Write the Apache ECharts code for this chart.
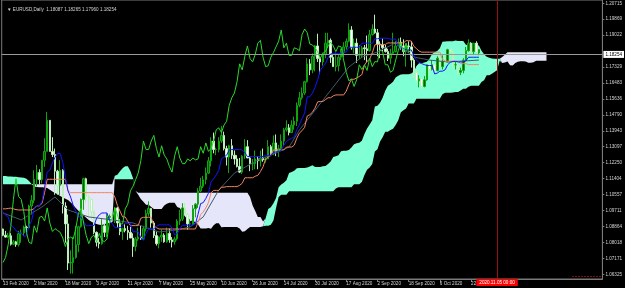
<!DOCTYPE html>
<html><head><meta charset="utf-8">
<script src="https://cdn.jsdelivr.net/npm/echarts@6.0.0/dist/echarts.min.js"></script>
<style>html,body{margin:0;padding:0;background:#000;}#c{width:625px;height:288px;}</style>
</head><body><div id="c"></div>
<script>
// ---- data (EURUSD Daily, bar index 0 = 13 Feb 2020) ----
const dateLabels = ['13 Feb 2020','2 Mar 2020','18 Mar 2020','3 Apr 2020','21 Apr 2020','7 May 2020','25 May 2020','10 Jun 2020','26 Jun 2020','14 Jul 2020','30 Jul 2020','17 Aug 2020','2 Sep 2020','18 Sep 2020','6 Oct 2020','22 Oct 2020'];
const yTicks = [1.20715,1.19869,1.19022,1.17329,1.16483,1.15636,1.14790,1.13943,1.13097,1.12250,1.11404,1.10557,1.09711,1.08864,1.08018,1.07171,1.06325];
const titleText = '\u25BC EURUSD,Daily  1.18087 1.18265 1.17960 1.18254';
const bidPrice = 1.18254;
const vLineBar = '190';
const vLineLabel = '2020.11.05 00:00';
const shiftMarker = { from: '219', to: '230', price: 1.06235 };

const open = [
1.0873,1.0840,1.0830,1.0837,1.0792,1.0805,1.0790,1.0848,1.0852,1.0883,
1.0880,1.0995,1.1025,1.1137,1.1173,1.1135,1.1238,1.1285,1.1450,1.1285,
1.1268,1.1180,1.1105,1.1185,1.0995,1.0900,1.0692,1.0695,1.0722,1.0790,
1.0885,1.1030,1.1140,1.1045,1.1030,1.0965,1.0855,1.0803,1.0795,1.0890,
1.0855,1.0935,1.0940,1.0915,1.0985,1.0905,1.0860,1.0875,1.0865,1.0855,
1.0825,1.0780,1.0820,1.0830,1.0820,1.0875,1.0955,1.0982,1.0905,1.0838,
1.0795,1.0830,1.0840,1.0805,1.0850,1.0815,1.0805,1.0820,1.0915,1.0925,
1.0985,1.0950,1.0900,1.0900,1.0980,1.1005,1.1075,1.1100,1.1135,1.1170,
1.1235,1.1340,1.1295,1.1295,1.1340,1.1370,1.1300,1.1255,1.1315,1.1265,
1.1245,1.1205,1.1175,1.1260,1.1310,1.1250,1.1220,1.1220,1.1245,1.1235,
1.1250,1.1240,1.1245,1.1310,1.1275,1.1330,1.1285,1.1300,1.1340,1.1400,
1.1410,1.1385,1.1425,1.1445,1.1530,1.1570,1.1595,1.1655,1.1750,1.1718,
1.1790,1.1845,1.1778,1.1760,1.1800,1.1860,1.1875,1.1785,1.1735,1.1740,
1.1785,1.1810,1.1840,1.1870,1.1930,1.1835,1.1860,1.1795,1.1795,1.1835,
1.1830,1.1820,1.1905,1.1935,1.1915,1.1855,1.1850,1.1835,1.1815,1.1780,
1.1805,1.1815,1.1845,1.1865,1.1845,1.1815,1.1845,1.1840,1.1770,1.1705,
1.1660,1.1670,1.1630,1.1665,1.1745,1.1720,1.1745,1.1715,1.1780,1.1735,
1.1762,1.1760,1.1825,1.1815,1.1745,1.1745,1.1705,1.1715,1.1770,1.1820,
1.1860,1.1815,1.1860,1.18087];
const high = [
1.0875,1.0863,1.0852,1.0851,1.0815,1.0810,1.0863,1.0870,1.0891,1.0890,
1.1002,1.1053,1.1185,1.1213,1.1190,1.1240,1.1355,1.1495,1.1450,1.1360,
1.1300,1.1187,1.1238,1.1190,1.1015,1.0950,1.0760,1.0830,1.0890,1.0890,
1.1035,1.1145,1.1145,1.1055,1.1035,1.0970,1.0860,1.0825,1.0925,1.0905,
1.0955,1.0950,1.0955,1.0990,1.0990,1.0925,1.0880,1.0900,1.0890,1.0885,
1.0850,1.0830,1.0880,1.0890,1.0890,1.0975,1.1020,1.0985,1.0915,1.0860,
1.0835,1.0870,1.0850,1.0880,1.0875,1.0830,1.0832,1.0925,1.0975,1.1010,
1.1010,1.0960,1.0925,1.1000,1.1010,1.1090,1.1145,1.1155,1.1200,1.1255,
1.1360,1.1385,1.1305,1.1360,1.1420,1.1390,1.1315,1.1320,1.1350,1.1290,
1.1265,1.1250,1.1265,1.1350,1.1345,1.1260,1.1245,1.1290,1.1260,1.1290,
1.1300,1.1255,1.1345,1.1320,1.1370,1.1375,1.1320,1.1375,1.1410,1.1450,
1.1430,1.1450,1.1470,1.1545,1.1600,1.1625,1.1660,1.1780,1.1775,1.1805,
1.1850,1.1910,1.1790,1.1810,1.1915,1.1915,1.1885,1.1805,1.1810,1.1800,
1.1830,1.1865,1.1885,1.1965,1.1950,1.1885,1.1885,1.1850,1.1845,1.1850,
1.1900,1.1930,1.1960,1.2011,1.1935,1.1870,1.1885,1.1850,1.1830,1.1830,
1.1915,1.1870,1.1885,1.1890,1.1880,1.1850,1.1870,1.1870,1.1780,1.1720,
1.1690,1.1675,1.1685,1.1745,1.1755,1.1770,1.1750,1.1790,1.1810,1.1795,
1.1790,1.1830,1.1830,1.1820,1.1765,1.1755,1.1730,1.1780,1.1840,1.1880,
1.1865,1.1860,1.1870,1.18265];
const low = [
1.0835,1.0827,1.0826,1.0785,1.0787,1.0778,1.0780,1.0800,1.0835,1.0855,
1.0875,1.0950,1.1010,1.1100,1.1110,1.1115,1.1203,1.1285,1.1285,1.1255,
1.1055,1.1055,1.1052,1.0955,1.0800,1.0655,1.0636,1.0636,1.0715,1.0750,
1.0880,1.0975,1.1010,1.0925,1.0925,1.0845,1.0780,1.0770,1.0790,1.0830,
1.0830,1.0920,1.0905,1.0905,1.0880,1.0840,1.0815,1.0855,1.0815,1.0825,
1.0725,1.0755,1.0810,1.0815,1.0815,1.0860,1.0940,1.0880,1.0825,1.0785,
1.0770,1.0805,1.0800,1.0800,1.0800,1.0775,1.0790,1.0812,1.0895,1.0915,
1.0945,1.0870,1.0885,1.0895,1.0935,1.0985,1.1070,1.1090,1.1110,1.1165,
1.1205,1.1275,1.1265,1.1280,1.1330,1.1290,1.1210,1.1170,1.1245,1.1215,
1.1200,1.1170,1.1165,1.1245,1.1250,1.1180,1.1185,1.1190,1.1190,1.1205,
1.1230,1.1225,1.1245,1.1260,1.1265,1.1260,1.1255,1.1295,1.1315,1.1390,
1.1370,1.1385,1.1400,1.1420,1.1520,1.1560,1.1585,1.1650,1.1690,1.1700,
1.1710,1.1760,1.1695,1.1740,1.1780,1.1835,1.1755,1.1735,1.1710,1.1710,
1.1770,1.1785,1.1825,1.1865,1.1825,1.1805,1.1755,1.1775,1.1780,1.1770,
1.1760,1.1815,1.1900,1.1910,1.1790,1.1780,1.1815,1.1810,1.1765,1.1750,
1.1800,1.1810,1.1840,1.1825,1.1790,1.1735,1.1825,1.1730,1.1675,1.1650,
1.1625,1.1612,1.1625,1.1660,1.1685,1.1715,1.1695,1.1710,1.1730,1.1720,
1.1750,1.1760,1.1785,1.1735,1.1720,1.1690,1.1690,1.1700,1.1765,1.1815,
1.1790,1.1800,1.1800,1.1796];
const close = [
1.0840,1.0830,1.0837,1.0792,1.0805,1.0790,1.0848,1.0852,1.0883,1.0880,
1.0995,1.1025,1.1137,1.1173,1.1135,1.1238,1.1285,1.1450,1.1285,1.1268,
1.1180,1.1105,1.1185,1.0995,1.0900,1.0692,1.0695,1.0722,1.0790,1.0885,
1.1030,1.1140,1.1045,1.1030,1.0965,1.0855,1.0803,1.0795,1.0890,1.0855,
1.0935,1.0940,1.0915,1.0985,1.0905,1.0860,1.0875,1.0865,1.0855,1.0825,
1.0780,1.0820,1.0830,1.0820,1.0875,1.0955,1.0982,1.0905,1.0838,1.0795,
1.0830,1.0840,1.0805,1.0850,1.0815,1.0805,1.0820,1.0915,1.0925,1.0985,
1.0950,1.0900,1.0900,1.0980,1.1005,1.1075,1.1100,1.1135,1.1170,1.1235,
1.1340,1.1295,1.1295,1.1340,1.1370,1.1300,1.1255,1.1315,1.1265,1.1245,
1.1205,1.1175,1.1260,1.1310,1.1250,1.1220,1.1220,1.1245,1.1235,1.1250,
1.1240,1.1245,1.1310,1.1275,1.1330,1.1285,1.1300,1.1340,1.1400,1.1410,
1.1385,1.1425,1.1445,1.1530,1.1570,1.1595,1.1655,1.1750,1.1718,1.1790,
1.1845,1.1778,1.1760,1.1800,1.1860,1.1875,1.1785,1.1735,1.1740,1.1785,
1.1810,1.1840,1.1870,1.1930,1.1835,1.1860,1.1795,1.1795,1.1835,1.1830,
1.1820,1.1905,1.1935,1.1915,1.1855,1.1850,1.1835,1.1815,1.1780,1.1805,
1.1815,1.1845,1.1865,1.1845,1.1815,1.1845,1.1840,1.1770,1.1705,1.1660,
1.1670,1.1630,1.1665,1.1745,1.1720,1.1745,1.1715,1.1780,1.1735,1.1762,
1.1760,1.1825,1.1815,1.1745,1.1745,1.1705,1.1715,1.1770,1.1820,1.1860,
1.1815,1.1860,1.1810,1.18254];

// Tenkan-sen (blue), per bar
const tenkan = [
1.0965,1.0946,1.0938,1.0893,1.0883,1.0864,1.0854,1.0852,1.0835,1.0835,
1.0890,1.0916,1.0982,1.0996,1.0997,1.1020,1.1095,1.1175,1.1185,1.1223,
1.1253,1.1275,1.1274,1.1225,1.1148,1.1075,1.1043,1.0998,1.0968,1.0937,
1.0937,1.0913,1.0891,1.0891,1.0891,1.0891,1.0930,1.0948,1.0958,1.0958,
1.0958,1.0913,1.0903,1.0880,1.0880,1.0880,1.0890,1.0903,1.0903,1.0903,
1.0858,1.0858,1.0858,1.0825,1.0813,1.0850,1.0873,1.0873,1.0873,1.0888,
1.0895,1.0895,1.0895,1.0895,1.0895,1.0878,1.0843,1.0848,1.0873,1.0893,
1.0893,1.0893,1.0893,1.0893,1.0900,1.0951,1.1008,1.1013,1.1035,1.1063,
1.1123,1.1140,1.1160,1.1185,1.1245,1.1255,1.1265,1.1293,1.1295,1.1295,
1.1295,1.1295,1.1293,1.1278,1.1258,1.1258,1.1258,1.1258,1.1258,1.1258,
1.1258,1.1265,1.1263,1.1263,1.1278,1.1283,1.1283,1.1290,1.1318,1.1338,
1.1348,1.1353,1.1363,1.1400,1.1428,1.1460,1.1488,1.1575,1.1575,1.1595,
1.1625,1.1665,1.1715,1.1735,1.1750,1.1783,1.1803,1.1805,1.1805,1.1805,
1.1805,1.1813,1.1813,1.1838,1.1838,1.1838,1.1838,1.1838,1.1860,1.1860,
1.1860,1.1860,1.1858,1.1883,1.1883,1.1886,1.1886,1.1886,1.1886,1.1881,
1.1881,1.1881,1.1843,1.1833,1.1833,1.1825,1.1825,1.1823,1.1795,1.1770,
1.1758,1.1751,1.1746,1.1741,1.1741,1.1741,1.1696,1.1701,1.1711,1.1711,
1.1718,1.1745,1.1758,1.1763,1.1763,1.1760,1.1760,1.1760,1.1765,1.1785,
1.1785,1.1785,1.1785,1.1785];
// Kijun-sen (salmon), per bar
const kijun = [
1.0980,1.0980,1.0982,1.0984,1.0980,1.0976,1.0974,1.0974,1.0974,1.0974,
1.0974,1.0974,1.0982,1.0996,1.0996,1.1009,1.1067,1.1137,1.1137,1.1137,
1.1137,1.1137,1.1137,1.1137,1.1137,1.1075,1.1066,1.1066,1.1066,1.1066,
1.1066,1.1066,1.1066,1.1066,1.1066,1.1066,1.1066,1.1066,1.1066,1.1066,
1.1066,1.1066,1.1066,1.1043,1.0998,1.0968,1.0937,1.0937,1.0913,1.0891,
1.0891,1.0891,1.0891,1.0930,1.0935,1.0935,1.0935,1.0935,1.0890,1.0880,
1.0873,1.0873,1.0873,1.0873,1.0873,1.0873,1.0873,1.0873,1.0873,1.0873,
1.0873,1.0873,1.0873,1.0873,1.0873,1.0908,1.0950,1.0963,1.0985,1.1013,
1.1065,1.1078,1.1078,1.1078,1.1095,1.1095,1.1098,1.1098,1.1098,1.1098,
1.1098,1.1105,1.1116,1.1145,1.1145,1.1145,1.1145,1.1153,1.1158,1.1178,
1.1203,1.1245,1.1255,1.1265,1.1293,1.1293,1.1293,1.1293,1.1293,1.1308,
1.1308,1.1308,1.1318,1.1355,1.1383,1.1395,1.1413,1.1473,1.1480,1.1493,
1.1515,1.1548,1.1550,1.1550,1.1560,1.1570,1.1570,1.1580,1.1585,1.1585,
1.1585,1.1585,1.1605,1.1640,1.1668,1.1668,1.1675,1.1683,1.1693,1.1743,
1.1763,1.1775,1.1808,1.1851,1.1853,1.1853,1.1853,1.1853,1.1861,1.1861,
1.1861,1.1861,1.1861,1.1861,1.1861,1.1873,1.1873,1.1871,1.1843,1.1831,
1.1818,1.1812,1.1812,1.1812,1.1812,1.1812,1.1812,1.1812,1.1812,1.1774,
1.1764,1.1764,1.1764,1.1764,1.1764,1.1764,1.1751,1.1751,1.1751,1.1746,
1.1746,1.1746,1.1746,1.1746];
// Senkou span A (plotted, already 26 bars ahead), bars 0..209
const spanA = [
1.1154,1.1154,1.1152,1.1152,1.1150,1.1150,1.1148,1.1147,1.1145,1.1140,
1.1128,1.1112,1.1098,1.1096,1.1095,1.1094,1.1093,1.1090,1.1082,1.1072,
1.1064,1.1057,1.1048,1.1040,1.1034,1.1027,
1.1015,1.1000,1.0985,1.0970,1.0958,1.0945,1.0932,1.0921,1.0912,1.0905,
1.0900,1.0896,1.0894,1.0898,1.0903,1.0905,1.0910,1.1156,1.1161,1.1180,
1.1195,1.1206,1.1206,1.1181,1.1143,1.1075,1.1055,1.1032,1.1017,1.1002,
1.1002,1.0990,1.0979,1.0979,1.0979,1.0979,1.0998,1.1007,1.1012,1.1012,
1.1012,1.0990,1.0985,1.0962,1.0939,1.0924,1.0914,1.0920,1.0908,1.0897,
1.0875,1.0875,1.0875,1.0878,1.0874,1.0893,1.0904,1.0904,1.0882,1.0884,
1.0884,1.0884,1.0884,1.0884,1.0884,1.0876,1.0858,1.0861,1.0873,1.0883,
1.0883,1.0883,1.0883,1.0883,1.0887,1.0930,1.0979,1.0988,1.1010,1.1038,
1.1094,1.1109,1.1119,1.1132,1.1170,1.1175,1.1182,1.1196,1.1197,1.1197,
1.1197,1.1200,1.1205,1.1212,1.1202,1.1202,1.1202,1.1206,1.1208,1.1218,
1.1231,1.1255,1.1259,1.1264,1.1286,1.1288,1.1288,1.1292,1.1306,1.1323,
1.1328,1.1331,1.1341,1.1378,1.1406,1.1428,1.1451,1.1524,1.1528,1.1544,
1.1570,1.1607,1.1633,1.1643,1.1655,1.1677,1.1687,1.1693,1.1695,1.1695,
1.1695,1.1699,1.1709,1.1739,1.1753,1.1753,1.1757,1.1761,1.1777,1.1802,
1.1812,1.1818,1.1833,1.1867,1.1868,1.1870,1.1870,1.1870,1.1874,1.1871,
1.1871,1.1871,1.1852,1.1847,1.1847,1.1849,1.1849,1.1847,1.1819,1.1801,
1.1788,1.1782,1.1779,1.1777,1.1777,1.1777,1.1754,1.1757,1.1762,1.1743,
1.1741,1.1755,1.1761,1.1764,1.1764,1.1762,1.1756,1.1756,1.1758,1.1766,
1.1766,1.1766,1.1766,1.1766];
// Senkou span B (plotted), bars 0..209
const spanB = [
1.1110,1.1110,1.1110,1.1110,1.1110,1.1110,1.1110,1.1110,1.1110,1.1110,
1.1110,1.1110,1.1110,1.1110,1.1110,1.1110,1.1110,1.1110,1.1110,1.1110,
1.1110,1.1110,1.1110,1.1110,1.1110,1.1110,
1.1110,1.1110,1.1110,1.1110,1.1110,1.1110,
1.1110,1.1110,1.1110,1.1110,1.1110,1.1110,1.1110,1.1110,1.1110,1.1110,
1.1110,
1.1137,1.1137,1.1137,1.1137,1.1137,1.1137,1.1137,1.1137,
1.1075,
1.1066,1.1066,1.1066,1.1066,1.1066,1.1066,1.1066,1.1066,1.1066,1.1066,
1.1066,1.1066,1.1066,1.1066,1.1066,1.1066,1.1066,1.1066,1.1066,1.1066,
1.1066,1.1066,1.1066,1.1066,1.1066,1.1066,1.1066,1.1066,1.1066,1.1066,
1.1066,1.1066,1.1066,1.1066,1.1066,1.1066,1.1066,1.1066,1.1066,1.1066,
1.1066,1.1066,1.1066,
1.1043,1.0998,1.0968,1.0937,1.0937,1.0913,1.0890,1.0890,1.0896,1.0918,1.0985,1.1043,
1.1055,1.1055,1.1055,
1.1073,1.1073,1.1073,1.1073,1.1073,1.1073,1.1073,1.1073,1.1073,1.1073,
1.1073,1.1073,1.1073,1.1073,1.1073,1.1073,1.1073,1.1073,
1.1088,
1.1095,1.1095,1.1095,1.1095,1.1095,1.1095,
1.1110,1.1110,1.1110,
1.1123,1.1160,1.1188,1.1200,1.1218,1.1285,1.1296,1.1338,1.1360,1.1390,
1.1390,1.1398,1.1405,1.1425,1.1450,1.1493,1.1503,1.1513,
1.1540,1.1540,1.1540,
1.1565,1.1565,1.1565,1.1565,1.1565,1.1565,1.1565,1.1565,1.1565,1.1565,
1.1588,
1.1596,1.1596,1.1596,
1.1598,1.1601,1.1601,1.1608,1.1618,1.1618,1.1628,
1.1633,1.1633,1.1633,1.1633,
1.1653,1.1663,1.1690,1.1690,1.1698,1.1706,1.1716,1.1766,1.1786,1.1798,
1.1812,1.1812,1.1812,1.1812,1.1812,1.1812,1.1812,1.1812,
1.1812,1.1812,1.1812,1.1812,1.1812,1.1812,1.1812,1.1812];
// thin slate line, read at sample bars [bar, price]
const slateLine = [[0,1.0958],[7,1.0921],[15,1.0990],[20,1.1043],[25,1.0974],[33,1.0937],[42,1.0921],[50,1.0905],[60,1.0857],[67,1.0868],[72,1.0884],[77,1.0937],[83,1.1080],[89,1.1170],[98,1.1239],[105,1.1277],[110,1.1308],[114,1.1399],[121,1.1521],[127,1.1627],[133,1.1733],[138,1.1786],[144,1.1813],[151,1.1861],[158,1.1786],[164,1.1770],[171,1.1760],[183,1.1770]];
const chikouShift = 26;

// ---- build ----
const FONT = 'Liberation Sans, Arial, sans-serif';
const TXT = '#d4d4d4';
const N = 231;
const cats = [];
for (let i = 0; i < N; i++) cats.push(String(i));
const candles = open.map((o, i) => [o, close[i], low[i], high[i]]);
const cloudBase = [], cloudUp = [], cloudDown = [];
for (let i = 0; i < spanA.length; i++) {
  const a = spanA[i], b = spanB[i];
  cloudBase.push(Math.min(a, b));
  cloudUp.push(a >= b ? +(a - b).toFixed(5) : 0);
  cloudDown.push(b > a ? +(b - a).toFixed(5) : 0);
}
const chikou = close.slice(chikouShift);
const showIdx = (i) => i % 12 === 0 && i / 12 < dateLabels.length;

const chart = echarts.init(document.getElementById('c'), null, { renderer: 'canvas' });
chart.setOption({
  animation: false,
  backgroundColor: '#000',
  title: { text: titleText, left: 2, top: 2, textStyle: { color: TXT, fontSize: 4.6, fontWeight: 'normal', fontFamily: FONT } },
  grid: { left: 0, right: 21, top: 0, bottom: 9, show: true, borderColor: '#7a7a7a', borderWidth: 1, backgroundColor: '#000', containLabel: false },
  xAxis: {
    type: 'category', data: cats, boundaryGap: true,
    axisLine: { show: true, lineStyle: { color: '#7a7a7a', width: 1 } },
    axisTick: { show: true, alignWithLabel: true, interval: showIdx, length: 3, lineStyle: { color: '#7a7a7a' } },
    axisLabel: { interval: showIdx, formatter: (v) => dateLabels[Number(v) / 12], align: 'left', color: TXT, fontSize: 4.6, margin: 2, fontFamily: FONT },
    splitLine: { show: false }
  },
  yAxis: {
    type: 'value', position: 'right', min: 1.06074, max: 1.20890, scale: true,
    splitLine: { show: false },
    axisLine: { show: true, lineStyle: { color: '#7a7a7a', width: 1 } },
    axisTick: { show: true, length: 2, customValues: yTicks, lineStyle: { color: '#7a7a7a' } },
    axisLabel: { customValues: yTicks, formatter: (v) => v.toFixed(5), color: TXT, fontSize: 4.6, margin: 3, fontFamily: FONT }
  },
  series: [
    { name: 'cloudBase', type: 'line', data: cloudBase, stack: 'cloud', symbol: 'none', lineStyle: { opacity: 0 }, z: 1, silent: true },
    { name: 'cloudUp', type: 'line', data: cloudUp, stack: 'cloud', symbol: 'none', lineStyle: { opacity: 0 }, areaStyle: { color: '#7fffd4', opacity: 1 }, z: 1, silent: true },
    { name: 'cloudDown', type: 'line', data: cloudDown, stack: 'cloud', symbol: 'none', lineStyle: { opacity: 0 }, areaStyle: { color: '#e6e6fa', opacity: 1 }, z: 1, silent: true },
    { name: 'slate', type: 'line', data: slateLine, symbol: 'none', lineStyle: { color: '#3f5c68', width: 1 }, z: 3, silent: true },
    { name: 'price', type: 'candlestick', data: candles, barWidth: 2,
      itemStyle: { color: '#075807', color0: '#ffffff', borderColor: '#0fa50f', borderColor0: '#b8f0b8', borderWidth: 1 },
      z: 2,
      markLine: {
        symbol: 'none', silent: true, animation: false,
        data: [
          { yAxis: bidPrice, lineStyle: { color: '#9a9a9a', width: 1, type: 'solid' },
            label: { show: true, position: 'end', formatter: bidPrice.toFixed(5), backgroundColor: '#ffffff', color: '#000', fontSize: 4.6, padding: [1, 2, 1, 2], distance: 1, fontFamily: FONT } },
          { xAxis: vLineBar, lineStyle: { color: '#9b1010', width: 1, type: 'solid' },
            label: { show: true, position: 'start', formatter: vLineLabel, backgroundColor: '#ff0000', color: '#ffffff', fontSize: 4.6, padding: [1, 3, 1, 3], distance: 0, fontFamily: FONT } },
          [ { coord: [shiftMarker.from, shiftMarker.price], lineStyle: { color: '#ff2020', width: 1, type: [1, 2] }, label: { show: false } },
            { coord: [shiftMarker.to, shiftMarker.price] } ]
        ]
      }
    },
    { name: 'kijun', type: 'line', data: kijun, symbol: 'none', lineStyle: { color: '#f4845f', width: 1 }, z: 4, silent: true },
    { name: 'tenkan', type: 'line', data: tenkan, symbol: 'none', lineStyle: { color: '#1414ff', width: 1 }, z: 5, silent: true },
    { name: 'chikou', type: 'line', data: chikou, symbol: 'none', lineStyle: { color: '#2ad82a', width: 1 }, z: 6, silent: true }
  ]
});
</script>
</body></html>
